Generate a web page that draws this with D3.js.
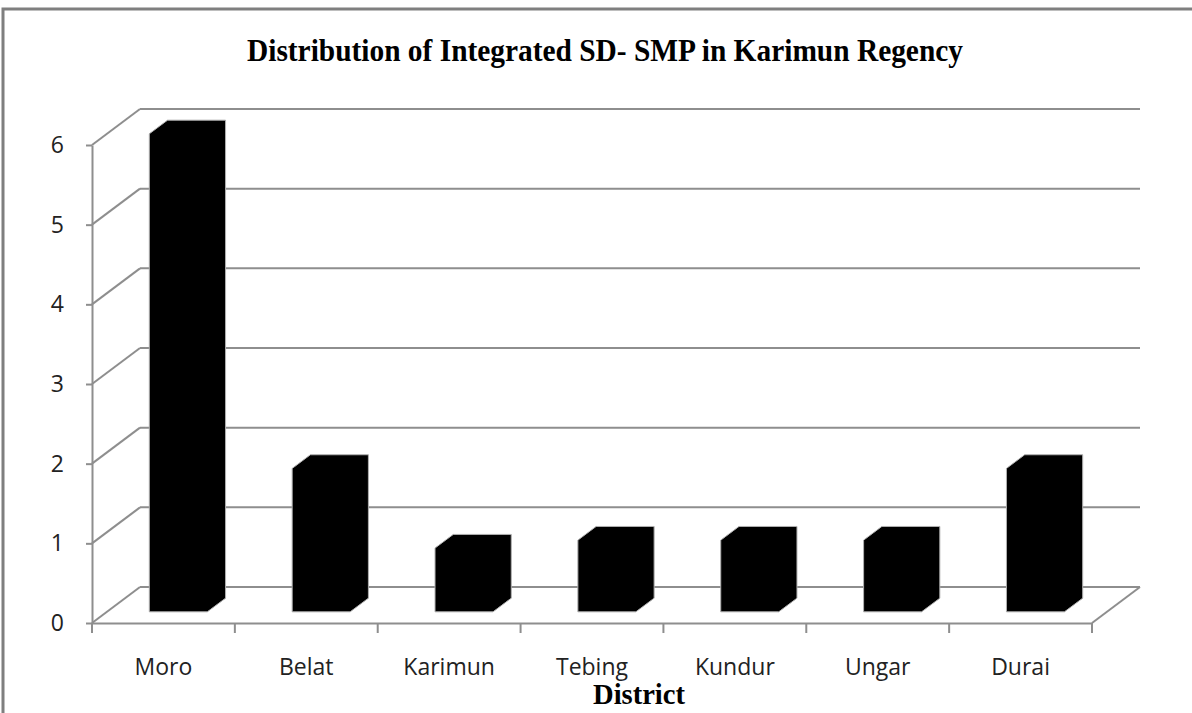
<!DOCTYPE html>
<html lang="en">
<head>
    <meta charset="utf-8">
    <title>Distribution of Integrated SD- SMP in Karimun Regency</title>
    <script src="https://cdn.jsdelivr.net/npm/d3@7"></script>
    <style>
        body { margin: 0; background: #fff; }
    </style>
</head>
<body></body>
<script type="text/javascript">

    // data
    const districts = ["Moro", "Belat", "Karimun", "Tebing", "Kundur", "Ungar", "Durai"];
    const schools = [6, 1.8, 0.8, 0.9, 0.9, 0.9, 1.8];
    const yTicks = [0, 1, 2, 3, 4, 5, 6];

    const W = 1192, H = 713;
    const gridColor = "#8e8e8e";

    // oblique 3D offset of the floor / wall
    const depth = {dx: 48, dy: -36};
    const barZ = [0.31, 0.69];

    const svg = d3.select("body").append("svg")
        .attr("width", W)
        .attr("height", H);

    // outer chart frame (top + left visible)
    svg.append("path")
        .attr("d", "M3," + (H + 5) + " L3,9 L" + (W + 5) + ",9")
        .attr("fill", "none")
        .attr("stroke", "#7f7f7f")
        .attr("stroke-width", 3);

    const x = d3.scaleBand()
        .domain(districts)
        .range([92, 1092])
        .paddingInner(0.594)
        .paddingOuter(0.297);

    const y = d3.scaleLinear()
        .domain([0, 6])
        .range([623, 145]);

    const x0 = 92, x1 = 1092;

    //	back wall gridlines and side wall diagonals
    const grid = svg.append("g").attr("stroke", gridColor).attr("stroke-width", 2).attr("fill", "none");

    grid.selectAll("line.back")
        .data(yTicks)
        .enter().append("line")
        .attr("class", "back")
        .attr("x1", x0 + depth.dx)
        .attr("x2", x1 + depth.dx)
        .attr("y1", d => y(d) + depth.dy)
        .attr("y2", d => y(d) + depth.dy);

    grid.selectAll("line.side")
        .data(yTicks)
        .enter().append("line")
        .attr("class", "side")
        .attr("x1", x0)
        .attr("x2", x0 + depth.dx)
        .attr("y1", d => y(d))
        .attr("y2", d => y(d) + depth.dy);

    // floor right edge
    grid.append("line")
        .attr("x1", x1).attr("y1", y(0))
        .attr("x2", x1 + depth.dx).attr("y2", y(0) + depth.dy);

    //	bars
    const bars = svg.append("g");
    const bw = x.bandwidth();
    const bdx = (barZ[1] - barZ[0]) * depth.dx, bdy = (barZ[1] - barZ[0]) * depth.dy;

    bars.selectAll("path")
        .data(districts.map((d, i) => ({name: d, value: schools[i]})))
        .enter().append("path")
        .attr("d", d => {
            const fx = x(d.name) + barZ[0] * depth.dx;
            const fb = y(0) + barZ[0] * depth.dy;
            const ft = y(d.value) + barZ[0] * depth.dy;
            return "M" + fx + "," + fb +
                " L" + fx + "," + ft +
                " L" + (fx + bdx) + "," + (ft + bdy) +
                " L" + (fx + bw + bdx) + "," + (ft + bdy) +
                " L" + (fx + bw + bdx) + "," + (fb + bdy) +
                " L" + (fx + bw) + "," + fb + " Z";
        })
        .attr("fill", "#000")
        .attr("stroke", "#b0b0b0")
        .attr("stroke-width", 1);

    //	y axis
    const yAxis = svg.append("g")
        .attr("transform", "translate(" + x0 + ",0)")
        .call(d3.axisLeft(y).tickValues(yTicks).tickFormat(d3.format("d"))
            .tickSize(6).tickPadding(22).tickSizeOuter(0));

    yAxis.select(".domain").attr("stroke", gridColor).attr("stroke-width", 2);
    yAxis.selectAll(".tick line").attr("stroke", gridColor).attr("stroke-width", 2);
    yAxis.selectAll(".tick text")
        .style("font-family", "'Open Sans', sans-serif")
        .style("font-size", "23px")
        .attr("fill", "#222");

    //	x axis
    const xAxis = svg.append("g")
        .attr("transform", "translate(0," + y(0) + ")")
        .call(d3.axisBottom(x).tickSize(0).tickPadding(36).tickSizeOuter(0));

    xAxis.select(".domain").attr("stroke", gridColor).attr("stroke-width", 2);
    xAxis.selectAll(".tick text")
        .style("font-family", "'Open Sans', sans-serif")
        .style("font-size", "23px")
        .attr("fill", "#222");

    // category boundary ticks
    const bounds = d3.range(districts.length + 1).map(i => x0 + i * x.step());
    xAxis.selectAll("line.bound")
        .data(bounds)
        .enter().append("line")
        .attr("class", "bound")
        .attr("x1", d => d).attr("x2", d => d)
        .attr("y1", 0).attr("y2", 10)
        .attr("stroke", gridColor)
        .attr("stroke-width", 2);

    //	titles
    svg.append("text")
        .attr("x", 605)
        .attr("y", 61)
        .attr("text-anchor", "middle")
        .attr("textLength", 716)
        .attr("lengthAdjust", "spacingAndGlyphs")
        .style("font-family", "'Liberation Serif', 'Times New Roman', serif")
        .style("font-weight", "bold")
        .style("font-size", "32px")
        .text("Distribution of Integrated SD- SMP in Karimun Regency");

    svg.append("text")
        .attr("x", 639)
        .attr("y", 704)
        .attr("text-anchor", "middle")
        .attr("textLength", 92)
        .attr("lengthAdjust", "spacingAndGlyphs")
        .style("font-family", "'Liberation Serif', 'Times New Roman', serif")
        .style("font-weight", "bold")
        .style("font-size", "30px")
        .text("District");

</script>
</html>
